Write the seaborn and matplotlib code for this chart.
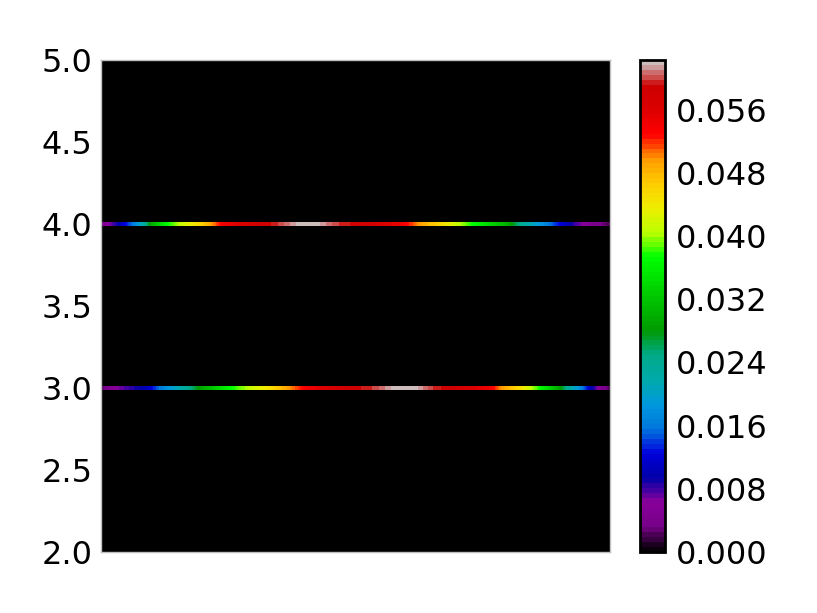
import numpy as np
import matplotlib
matplotlib.use("Agg")
import matplotlib.pyplot as plt
import seaborn as sns

# ---- data ----
# upper band (centred at y = 4)
x_upper = [0.000, 0.006, 0.037, 0.067, 0.087, 0.100, 0.130, 0.156, 0.189, 0.220,
           0.240, 0.307, 0.352, 0.375, 0.390, 0.404, 0.420, 0.440, 0.461, 0.530,
           0.594, 0.622, 0.673, 0.701, 0.732, 0.799, 0.825, 0.874, 0.917, 0.957, 1.000]
v_upper = [0.002, 0.005, 0.010, 0.017, 0.024, 0.030, 0.037, 0.041, 0.045, 0.050,
           0.054, 0.058, 0.060, 0.0612, 0.0621, 0.0623, 0.0621, 0.0612, 0.060, 0.058,
           0.054, 0.050, 0.045, 0.041, 0.037, 0.030, 0.024, 0.017, 0.010, 0.005, 0.002]
# lower band (centred at y = 3)
x_lower = [0.000, 0.018, 0.037, 0.087, 0.122, 0.171, 0.201, 0.254, 0.293, 0.333,
           0.372, 0.406, 0.470, 0.539, 0.560, 0.580, 0.598, 0.615, 0.630, 0.648,
           0.697, 0.766, 0.785, 0.825, 0.844, 0.864, 0.898, 0.917, 0.943, 0.963,
           0.982, 1.000]
v_lower = [0.002, 0.005, 0.007, 0.010, 0.017, 0.024, 0.030, 0.037, 0.041, 0.045,
           0.050, 0.054, 0.058, 0.060, 0.0612, 0.0621, 0.0623, 0.0621, 0.0612, 0.060,
           0.058, 0.054, 0.050, 0.045, 0.041, 0.037, 0.030, 0.024, 0.017, 0.010,
           0.005, 0.002]
band_centres = [4.0, 3.0]
band_half_width = 0.0145
vmax = 0.0623
cbar_ticks = [0.000, 0.008, 0.016, 0.024, 0.032, 0.040, 0.048, 0.056]
y_ticks = [2.0, 2.5, 3.0, 3.5, 4.0, 4.5, 5.0]

sns.set_style("white")
plt.rcParams["font.family"] = ["DejaVu Sans"]
plt.rcParams["font.size"] = 23
plt.rcParams["text.color"] = "black"
plt.rcParams["ytick.color"] = "black"
plt.rcParams["ytick.labelcolor"] = "black"

fig = plt.figure(figsize=(8.17, 6.13), dpi=100)
W, H = 817, 613
ax = fig.add_axes([101 / W, 1 - 552 / H, (610 - 101) / W, (552 - 60) / H])
cax = fig.add_axes([640 / W, 1 - 552 / H, (665 - 640) / W, (552 - 60) / H])

ax.set_facecolor("black")
levels = np.linspace(0, vmax, 101)
cmap = plt.get_cmap("nipy_spectral")

mappable = None
for yc, xs, vs in [(band_centres[0], x_upper, v_upper), (band_centres[1], x_lower, v_lower)]:
    X = np.array(xs)
    Y = np.array([yc - band_half_width, yc + band_half_width])
    Z = np.vstack([vs, vs])
    mappable = ax.contourf(X, Y, Z, levels=levels, cmap=cmap, vmin=0, vmax=vmax,
                           antialiased=False, extend="neither")

ax.set_xlim(0, 1)
ax.set_ylim(2, 5)
ax.set_yticks(y_ticks)
ax.set_yticklabels([f"{t:.1f}" for t in y_ticks])
ax.set_xticks([])
ax.tick_params(axis="y", direction="in", length=6, color="black", labelcolor="black",
               labelsize=23, pad=6)
for s in ax.spines.values():
    s.set_color("#c0c0c0")
    s.set_linewidth(1.0)

cb = fig.colorbar(mappable, cax=cax)
cb.set_ticks(cbar_ticks)
cb.set_ticklabels([f"{t:.3f}" for t in cbar_ticks])
cb.outline.set_linewidth(2)
cb.outline.set_edgecolor("black")
cax.tick_params(direction="in", length=8, width=1, color="black", labelcolor="black",
                labelsize=23, pad=8)

fig.savefig("out.png", dpi=100, facecolor="white")
